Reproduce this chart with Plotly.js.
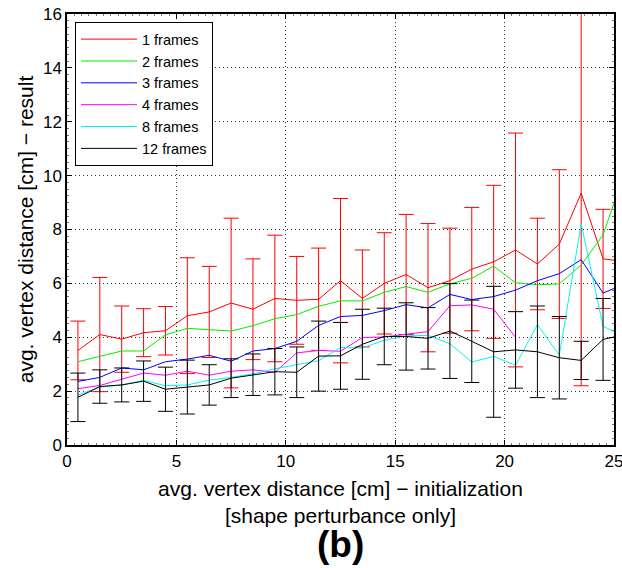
<!DOCTYPE html>
<html>
<head>
<meta charset="utf-8">
<script src="https://cdn.plot.ly/plotly-3.0.1.min.js"></script>
<style>html,body{margin:0;padding:0;background:#fff;}#chart{width:622px;height:568px;}</style>
</head>
<body>
<div id="chart"></div>
<script>
// x positions of the bins (last value is the line end at the right axis edge)
var xVals = [0.5,1.5,2.5,3.5,4.5,5.5,6.5,7.5,8.5,9.5,10.5,11.5,12.5,13.5,14.5,15.5,16.5,17.5,18.5,19.5,20.5,21.5,22.5,23.5,24.5,25];

var frames1 = [3.51,4.10,3.93,4.17,4.24,4.80,4.94,5.27,5.04,5.44,5.37,5.41,6.10,5.44,6.00,6.33,5.84,6.10,6.53,6.80,7.24,6.72,7.46,9.35,6.91,6.86];
var frames1Err = [1.09,2.12,1.23,0.89,0.90,2.15,1.69,3.15,1.87,2.35,1.63,1.90,3.05,1.80,1.88,2.23,2.38,1.95,2.29,2.84,4.34,1.70,2.76,7.15,1.84];

var frames2 = [3.09,3.30,3.49,3.49,4.09,4.33,4.28,4.23,4.43,4.69,4.84,5.15,5.35,5.35,5.67,5.88,5.67,5.98,6.19,6.64,6.02,5.95,5.98,6.68,7.80,8.98];

var frames3 = [2.36,2.51,2.86,2.79,3.09,3.19,3.33,3.11,3.49,3.58,3.85,4.44,4.77,4.81,4.99,5.21,5.09,5.59,5.40,5.51,5.75,6.10,6.36,6.88,5.64,5.81];

var frames4 = [2.09,2.21,2.44,2.67,2.59,2.74,2.59,2.74,2.79,2.70,3.42,3.51,3.48,3.99,4.01,4.11,4.21,5.17,5.20,5.04,4.00,null,null,null,null,null];

var frames8 = [1.85,2.15,2.23,2.40,2.20,2.23,2.41,2.51,2.64,2.83,2.98,3.13,3.62,3.60,3.89,4.05,4.07,3.76,3.08,3.29,2.96,4.47,3.33,8.21,4.41,4.21];

var frames12 = [1.77,2.17,2.23,2.37,2.07,2.15,2.23,2.48,2.61,2.72,2.70,3.30,3.31,3.74,4.03,4.03,3.96,4.23,3.85,3.46,3.53,3.46,3.24,3.14,3.92,4.01];
var frames12Err = [0.90,0.62,0.63,0.75,0.82,1.00,0.75,0.72,0.77,0.86,0.94,1.30,1.24,1.30,1.05,1.25,1.14,1.76,1.53,2.43,1.42,1.70,1.53,0.71,1.52];

var seriesNames = ['1 frames','2 frames','3 frames','4 frames','8 frames','12 frames'];
var xTicks = [0,5,10,15,20,25];
var yTicks = [0,2,4,6,8,10,12,14,16];

var FONT = 'Liberation Sans, Arial, Helvetica, sans-serif';

function lineTrace(y, name, color, err) {
  var t = {
    type: 'scatter', mode: 'lines', x: xVals, y: y, name: name,
    line: {color: color, width: 1},
    connectgaps: false, hoverinfo: 'skip'
  };
  if (err) {
    t.error_y = {type: 'data', array: err, visible: true, color: color, thickness: 1, width: 7.5};
  }
  return t;
}

var data = [
  lineTrace(frames1, seriesNames[0], '#ff0000', frames1Err),
  lineTrace(frames2, seriesNames[1], '#00ee00'),
  lineTrace(frames3, seriesNames[2], '#0000ff'),
  lineTrace(frames4, seriesNames[3], '#ff00ff'),
  lineTrace(frames8, seriesNames[4], '#00f5f5'),
  lineTrace(frames12, seriesNames[5], '#000000', frames12Err)
];

var axisCommon = {
  showline: true, linecolor: '#000', linewidth: 1.6, mirror: 'ticks',
  ticks: 'inside', ticklen: 5, tickcolor: '#000', tickwidth: 1,
  showgrid: true, gridcolor: '#333', griddash: '1px,3px', gridwidth: 1,
  zeroline: false, tickfont: {family: FONT, size: 17, color: '#000'},
  ticklabeloverflow: 'allow'
};

var layout = {
  width: 622, height: 568,
  margin: {l: 67, r: 8, t: 14, b: 123},
  paper_bgcolor: '#fff', plot_bgcolor: '#fff',
  font: {family: FONT, color: '#000'},
  xaxis: Object.assign({}, axisCommon, {
    range: [0, 25], tickvals: xTicks, ticktext: xTicks.map(String),
    minor: {ticks: 'inside', ticklen: 2, dtick: 1/3, tickcolor: '#777', showgrid: false},
    title: {text: 'avg. vertex distance [cm] \u2212 initialization<br>[shape perturbance only]',
            font: {family: FONT, size: 21, color: '#000'}, standoff: 11}
  }),
  yaxis: Object.assign({}, axisCommon, {
    range: [0, 16], tickvals: yTicks, ticktext: yTicks.map(String),
    minor: {ticks: 'inside', ticklen: 2, dtick: 0.25, tickcolor: '#777', showgrid: false},
    title: {text: 'avg. vertex distance [cm] \u2212 result',
            font: {family: FONT, size: 21, color: '#000'}, standoff: 4}
  }),
  legend: {
    x: 0.0146, y: 0.981, xanchor: 'left', yanchor: 'top',
    bgcolor: '#fff', bordercolor: '#000', borderwidth: 1,
    font: {family: FONT, size: 14.5, color: '#000'},
    tracegroupgap: 0, itemwidth: 56
  },
  showlegend: true,
  annotations: [{
    text: '<b>(b)</b>', xref: 'paper', yref: 'paper', x: 0.5, y: -0.232,
    xanchor: 'center', yanchor: 'middle', showarrow: false,
    font: {family: FONT, size: 37, color: '#000'}
  }]
};

Plotly.newPlot('chart', data, layout, {displayModeBar: false, staticPlot: true});
</script>
</body>
</html>
